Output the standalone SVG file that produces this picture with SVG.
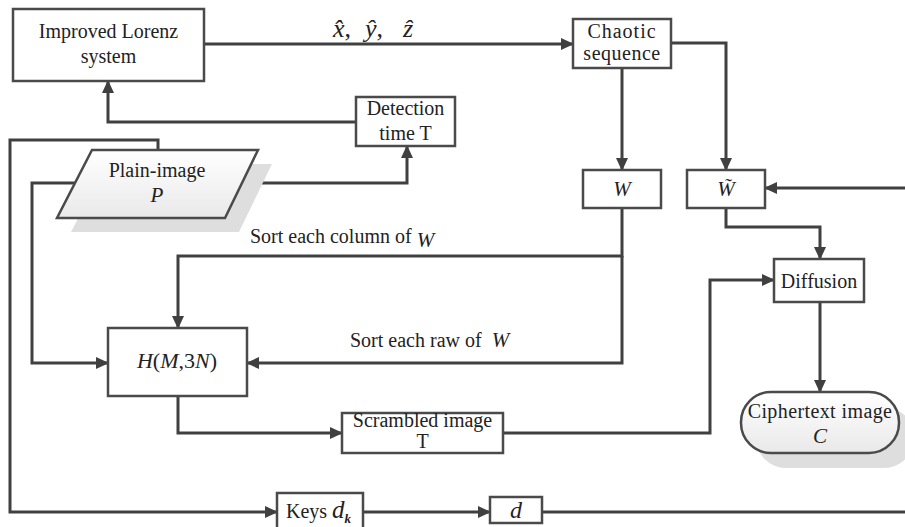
<svg xmlns="http://www.w3.org/2000/svg" width="905" height="527" viewBox="0 0 905 527">
<defs>
<marker id="ah" markerUnits="userSpaceOnUse" markerWidth="13" markerHeight="13" viewBox="0 0 13 13" refX="12" refY="6.5" orient="auto">
<path d="M0,0.5 L13,6.5 L0,12.5 z" fill="#404040"/>
</marker>
<linearGradient id="pg" x1="0" y1="0" x2="0" y2="1">
<stop offset="0" stop-color="#ffffff"/>
<stop offset="1" stop-color="#e9e9e9"/>
</linearGradient>
</defs>
<style>
.box{fill:#fff;stroke:#4a4a4a;stroke-width:2.5}
.con{fill:none;stroke:#404040;stroke-width:3;marker-end:url(#ah)}
.t{font-family:"Liberation Serif","Times New Roman",serif;font-size:20px;fill:#222;text-anchor:middle}
.lab{font-family:"Liberation Serif","Times New Roman",serif;font-size:20px;fill:#222}
.m{font-family:"Liberation Serif","Times New Roman",serif;font-style:italic;font-size:21px;fill:#222}
.mc{text-anchor:middle}
.up{font-style:normal}
.shadow{fill:#dedede}
</style>
<rect width="905" height="527" fill="#fff"/>

<g id="connectors">
<path class="con" d="M204,44 H573"/>
<path class="con" d="M356,122 H108 V81"/>
<path class="con" d="M242,183 H407 V146"/>
<path class="con" d="M158,150 V140 H10 V512 H277"/>
<path class="con" d="M75,183 H32 V363 H108"/>
<path class="con" d="M622,68 V170"/>
<path class="con" d="M671,43 H726 V170"/>
<path class="con" d="M622,208 V256 H178 V328"/>
<path class="con" d="M622,256 V363 H247"/>
<path class="con" d="M726,208 V227 H820 V259"/>
<path class="con" d="M178,396 V433 H342"/>
<path class="con" d="M503,433 H710 V280 H774"/>
<path class="con" d="M820,302 V392"/>
<path class="con" d="M363,512 H490"/>
<path class="con" d="M542,512 H908 V188 H765"/>
</g>

<g id="edge-labels">
<text class="m" y="37" style="font-size:26px"><tspan x="333">x̂</tspan><tspan class="up">,</tspan><tspan x="365">ŷ</tspan><tspan class="up">,</tspan><tspan x="403">ẑ</tspan></text>
<text class="lab" x="250" y="243">Sort each column of <tspan class="m" dy="4">W</tspan></text>
<text class="lab" x="350" y="347" xml:space="preserve">Sort each raw of  <tspan class="m">W</tspan></text>
</g>

<g id="lorenz">
<rect class="box" x="13" y="9" width="191" height="72"/>
<text class="t" x="108.5" y="38">Improved Lorenz</text>
<text class="t" x="108.5" y="63">system</text>
</g>

<g id="chaotic">
<rect class="box" x="573" y="19" width="98" height="49"/>
<text class="t" x="622" y="38" letter-spacing="1">Chaotic</text>
<text class="t" x="622" y="60" letter-spacing="0.5">sequence</text>
</g>

<g id="detection">
<rect class="box" x="356" y="97" width="99" height="49"/>
<text class="t" x="405.5" y="115">Detection</text>
<text class="t" x="405.5" y="140">time T</text>
</g>

<g id="plain">
<polygon class="shadow" points="106,164 272,164 239,232 71,232"/>
<polygon points="92,150 258,150 225,218 57,218" fill="url(#pg)" stroke="#4a4a4a" stroke-width="2.5"/>
<text class="t" x="157" y="177">Plain-image</text>
<text class="m mc" x="157" y="202">P</text>
</g>

<g id="w">
<rect class="box" x="583" y="170" width="78" height="38"/>
<text class="m mc" x="622" y="196">W</text>
</g>

<g id="wt">
<rect class="box" x="687" y="170" width="78" height="38"/>
<text class="m mc" x="726" y="196">W̃</text>
</g>

<g id="diffusion">
<rect class="box" x="774" y="259" width="90" height="43"/>
<text class="t" x="819" y="288">Diffusion</text>
</g>

<g id="h">
<rect class="box" x="108" y="328" width="139" height="68"/>
<text class="m mc" x="177" y="368" style="font-size:22px">H<tspan class="up">(</tspan>M<tspan class="up">,3</tspan>N<tspan class="up">)</tspan></text>
</g>

<g id="scrambled">
<rect class="box" x="342" y="413" width="161" height="40"/>
<text class="t" x="422.5" y="427">Scrambled image</text>
<text class="t" x="422.5" y="448">T</text>
</g>

<g id="cipher">
<rect class="shadow" x="756" y="407" width="158" height="61" rx="30"/>
<rect x="741" y="392" width="158" height="61" rx="30" fill="url(#pg)" stroke="#4a4a4a" stroke-width="2.5"/>
<text class="t" x="820" y="418" letter-spacing="0.4">Ciphertext image</text>
<text class="m mc" x="820" y="443">C</text>
</g>

<g id="keys">
<rect class="box" x="277" y="493" width="86" height="40"/>
<text class="lab" x="286" y="518">Keys <tspan class="m" style="font-size:25px">d</tspan><tspan class="m" style="font-size:13px;font-weight:bold" dy="5">k</tspan></text>
</g>

<g id="d">
<rect class="box" x="490" y="497" width="52" height="26"/>
<text class="m mc" x="516" y="518" style="font-size:24px">d</text>
</g>
</svg>
